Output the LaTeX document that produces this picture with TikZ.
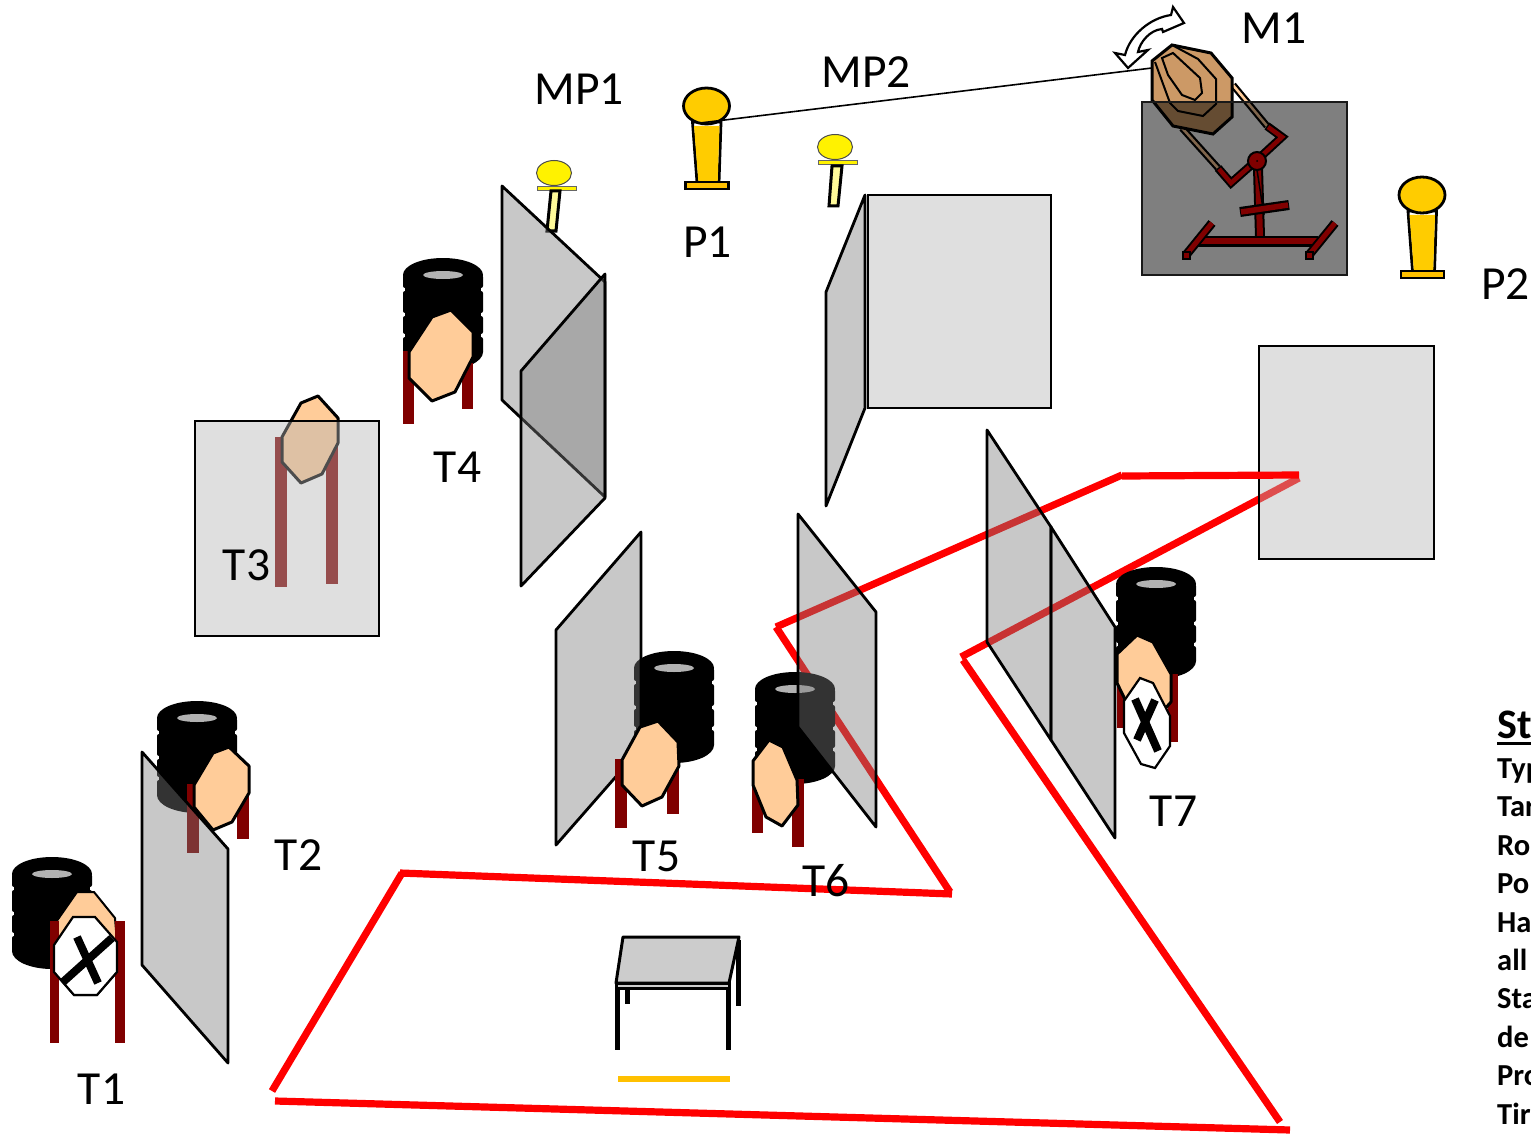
\documentclass[tikz,border=0pt]{standalone}
\usepackage{fontspec}
\setmainfont{Carlito}
\definecolor{post}{RGB}{128,0,0}
\definecolor{peach}{RGB}{255,204,153}
\definecolor{gold}{RGB}{255,204,0}
\definecolor{goldb}{RGB}{255,192,0}
\definecolor{tan1}{RGB}{204,153,102}
\definecolor{pg}{RGB}{123,123,123}
\definecolor{lg}{RGB}{180,180,180}
\definecolor{holeg}{RGB}{178,178,178}
\tikzset{
 x=1pt,y=-1pt,
 panel/.style={draw=black,line width=2.8,fill=pg,fill opacity=.415,draw opacity=1,line join=round},
 lightpanel/.style={draw=black,line width=2.6,fill=lg,fill opacity=.43,draw opacity=1},
 octa/.style={draw=black,line width=3,fill=peach,line join=round},
 whiteocta/.style={draw=black,line width=2.2,fill=white},
 postbar/.style={fill=post,draw=none},
 route/.style={draw=red,line width=7.2},
 xmark/.style={draw=black,line width=8},
 label/.style={font=\fontsize{47.5}{50}\selectfont,inner sep=0pt,text=black},
 sidetext/.style={font=\fontsize{30.5}{32}\selectfont\bfseries,inner sep=0pt,anchor=base west,text=black},
 yball/.style={draw=black!70,line width=1,fill=yellow},
 ybar/.style={draw=black!60,line width=1,fill=yellow},
 ystem/.style={draw=black,line width=3,fill=yellow!40},
 robotk/.style={draw=black,line cap=butt},
 robotr/.style={draw=post,line cap=butt},
}
\newcommand{\tirestack}[2]{%
 \begin{scope}[shift={(#1,#2)}]
  \fill (0,17) ellipse[x radius=40,y radius=17];
  \fill (0,94) ellipse[x radius=40,y radius=18];
  \fill (-38,17) rectangle (38,94);
  \fill[rounded corners=2] (-40,17) rectangle (40,30);
  \fill[rounded corners=2] (-40,33) rectangle (40,55);
  \fill[rounded corners=2] (-40,58) rectangle (40,76);
  \fill[rounded corners=2] (-40,79) rectangle (40,96);
  \fill[holeg] (0,17) ellipse[x radius=20,y radius=4];
 \end{scope}}
\newcommand{\trophy}[2]{%
 \begin{scope}[shift={(#1,#2)}]
  \draw[draw=black,line width=2.8,fill=white] (-14,16) -- (14.5,16) -- (12.5,76) -- (-9.5,76) -- cycle;
  \fill[gold] (-12.5,20) -- (13,20) -- (11.2,75) -- (-8.2,75) -- cycle;
  \draw[draw=black,line width=2.8,fill=goldb] (-21,76) rectangle (22,83);
  \draw[draw=black,line width=2.8,fill=gold] (0,0) ellipse[x radius=23,y radius=18];
 \end{scope}}
\begin{document}
\begin{tikzpicture}
\useasboundingbox (0,0) rectangle (1531,1134);
% red route
\draw[route] (272,1091) -- (402,873);
\draw[route] (400,873) -- (952,894);
\draw[route] (950,892) -- (776,627);
\draw[route] (776,627) -- (1122,475);
\draw[route] (1299,478) -- (961,657);
\draw[route] (963,660) -- (1280,1122);
\draw[route] (275,1101) -- (1290,1130);
% T1
\tirestack{52}{857}
\fill[peach,draw=black,line width=2] (77,892) -- (94,892) -- (115,918) -- (117,942) -- (117,972) -- (97,995) -- (74,995) -- (54,972) -- (54,925) -- cycle;
\fill[postbar] (50,921) rectangle (59,1043);
\fill[postbar] (115,921) rectangle (125,1043);
\draw[whiteocta] (73,917) -- (95,917) -- (117,942) -- (117,972) -- (97,995) -- (74,995) -- (54,972) -- (54,945) -- cycle;
\draw[xmark] (63,982) -- (112,938);
\draw[xmark] (77,937) -- (98,983);
% T2
\tirestack{197}{701}
\fill[postbar] (187,784) rectangle (199,853);
\fill[postbar] (237,793) rectangle (249,839);
\draw[octa] (229,747) -- (249,766) -- (249,793) -- (232,822) -- (213,830) -- (194,807) -- (194,785) -- (213,753) -- cycle;
\draw[panel] (142,752) -- (228,849) -- (228,1063) -- (142,965) -- cycle;
% T3
\fill[postbar] (275,437) -- (287,437) -- (287,587) -- (275,587) -- cycle;
\fill[postbar] (326,445) -- (338,445) -- (338,584) -- (326,584) -- cycle;
\draw[octa] (318,396) -- (338,418) -- (338,443) -- (322,474) -- (301,483) -- (282,462) -- (282,437) -- (301,403) -- cycle;
\draw[lightpanel] (195,421) rectangle (379,636);
% T4
\tirestack{443}{258}
\fill[postbar] (403,351) rectangle (414,424);
\fill[postbar] (462,363) rectangle (473,409);
\draw[octa] (451,310) -- (473,332) -- (473,357) -- (455,392) -- (432,401) -- (409,378) -- (409,352) -- (432,317) -- cycle;
% small poles
\draw[yball] (554,173) ellipse[x radius=17.5,y radius=12.5];
\draw[ybar] (537,187) rectangle (576,191);
\draw[ystem] (551,191) -- (560,191) -- (556,231) -- (547,231) -- cycle;
\draw[yball] (835,147) ellipse[x radius=17.5,y radius=12.5];
\draw[ybar] (818,161) rectangle (857,165);
\draw[ystem] (832,166) -- (842,166) -- (838,206) -- (829,206) -- cycle;
% trophies
\coordinate (p1a) at (700,123);
\coordinate (m1a) at (1152,68);
\trophy{706.5}{106}
\draw[line width=1.6] (p1a) -- (m1a);
\trophy{1422}{195}
% centre panels
\draw[panel] (502,186) -- (605,282) -- (605,497) -- (502,400) -- cycle;
\draw[panel] (521,371) -- (605,274) -- (605,498) -- (521,586) -- cycle;
% T5
\tirestack{674}{651}
\draw[panel] (556,630) -- (641,532) -- (641,748) -- (556,845) -- cycle;
\fill[postbar] (615,759) rectangle (627,828);
\fill[postbar] (667,766) rectangle (679,814);
\draw[octa] (658,721) -- (678,742) -- (679,766) -- (662,797) -- (642,806) -- (622,785) -- (622,760) -- (640,727) -- cycle;
% T6
\tirestack{795}{672}
\draw[panel] (798,514) -- (876,612) -- (876,827) -- (798,727) -- cycle;
\fill[postbar] (752,787) rectangle (763,833);
\fill[postbar] (792,779) rectangle (804,847);
\draw[octa] (769,740) -- (783,747) -- (797,780) -- (798,805) -- (782,826) -- (766,817) -- (753,785) -- (753,761) -- cycle;
% T7
\tirestack{1156}{567}
\fill[postbar] (1117,683) rectangle (1127,728);
\fill[postbar] (1168,674) rectangle (1178,742);
\draw[octa] (1137,635) -- (1153,642) -- (1171,674) -- (1171,702) -- (1155,720) -- (1135,720) -- (1117,683) -- (1117,654) -- cycle;
\draw[whiteocta] (1140,678) -- (1153,683) -- (1170,716) -- (1170,746) -- (1155,768) -- (1141,764) -- (1124,733) -- (1124,701) -- cycle;
\draw[xmark] (1135,699) -- (1158,751);
\draw[xmark] (1155,700) -- (1137,740);
\draw[panel] (987,430) -- (1051,527) -- (1051,740) -- (987,642) -- cycle;
\draw[panel] (1051,527) -- (1115,627) -- (1115,838) -- (1051,740) -- cycle;
% big panels
\draw[lightpanel] (868,195) rectangle (1051,408);
\draw[panel] (865,195) -- (865,408) -- (826,506) -- (826,292) -- cycle;
\draw[lightpanel] (1259,346) rectangle (1434,559);
\draw[route] (1122,476) -- (1299,475);
% M1 arms and head
\draw[line width=7] (1233,85) -- (1267,126);
\draw[draw=peach,line width=2.6] (1233,85) -- (1267,126);
\draw[line width=7] (1182,128) -- (1218,168);
\draw[draw=peach,line width=2.6] (1182,128) -- (1218,168);
\draw[draw=black,line width=3,fill=tan1] (1172,45) -- (1211,53) -- (1232,78) -- (1232,117) -- (1213,134) -- (1173,126) -- (1152,100) -- (1152,61) -- cycle;
\draw[line width=2] (1155,62) -- (1170,103) -- (1178,111) -- (1203,116) -- (1216,104) -- (1216,79) -- (1198,59) -- (1172,45);
\draw[line width=2] (1162,58) -- (1173,53) -- (1200,78) -- (1202,93) -- (1195,100) -- (1182,95) -- (1168,75) -- cycle;
\draw[draw=black!90,line width=2.6,fill=black,fill opacity=.5,draw opacity=1] (1142,102) rectangle (1347,275);
% M1 robot
\draw[robotk,line width=8.5,line join=miter] (1267,126) -- (1282,137) -- (1257,160) -- (1231,183) -- (1218,168);
\draw[robotr,line width=4.5,line join=miter] (1268,127) -- (1282,137) -- (1257,160) -- (1231,183) -- (1219,169);
\draw[robotk,line width=10] (1258,168) -- (1260,237);
\draw[robotr,line width=6] (1258,168) -- (1260,237);
\draw[line width=1.5] (1257,170) -- (1264,215);
\draw[robotk,line width=10] (1240,212) -- (1289,205);
\draw[robotr,line width=5.5] (1241,212) -- (1288,205);
\draw[robotk,line width=11] (1198,241) -- (1318,241);
\draw[robotr,line width=6.5] (1198,241) -- (1318,241);
\draw[robotk,line width=9] (1186,255) -- (1212,223);
\draw[robotr,line width=5] (1186,255) -- (1212,223);
\draw[robotk,line width=9] (1309,255) -- (1335,223);
\draw[robotr,line width=5] (1309,255) -- (1335,223);
\draw[draw=black,line width=2,fill=post] (1183,252) rectangle (1190,259);
\draw[draw=black,line width=2,fill=post] (1306,252) rectangle (1313,259);
\draw[draw=black,line width=2,fill=post] (1257,161) circle[radius=9];
\fill (1257,161) circle[radius=1];
% rotation arrow
\draw[line width=2.2,fill=white,line join=miter] (1115,53) -- (1125,55) .. controls (1130,35) and (1150,18) .. (1171,15) -- (1173,7) -- (1184,23) -- (1163,32) -- (1162,29) .. controls (1150,30) and (1140,42) .. (1138,52) -- (1148,50) -- (1128,68) -- cycle;
% table
\draw[line width=5] (617,988) -- (617,1050);
\draw[line width=5] (728,988) -- (728,1050);
\draw[line width=5] (627,988) -- (627,1004);
\draw[line width=5] (738,940) -- (738,1006);
\draw[line width=3,fill=black!20] (616,983) rectangle (729,988);
\draw[line width=3,fill=black!20,line join=round] (623,937) -- (739,937) -- (729,983) -- (616,983) -- cycle;
\draw[draw=goldb,line width=5.5] (618,1079) -- (730,1079);
% labels
\node[label] (lmp1) at (579,89.5) {MP1};
\node[label] (lmp2) at (866,72.5) {MP2};
\node[label] (lm1) at (1274,28) {M1};
\node[label] (lp1) at (707.5,242.5) {P1};
\node[label] (lp2) at (1505.5,284.5) {P2};
\node[label] (lt1) at (101.5,1089.5) {T1};
\node[label] (lt2) at (298.5,855.5) {T2};
\node[label] (lt3) at (246.5,565.5) {T3};
\node[label] (lt4) at (457.5,467.5) {T4};
\node[label] (lt5) at (656.5,856.5) {T5};
\node[label] (lt6) at (826,880.5) {T6};
\node[label] (lt7) at (1173.5,811.5) {T7};
% side text, cut by the page edge
\begin{scope}
\clip (0,0) rectangle (1531,1134);
\node[sidetext,font=\fontsize{42}{44}\selectfont\bfseries] (s0) at (1497,738) {St};
\draw[line width=3] (1497,743) -- (1531,743);
\node[sidetext] (s1) at (1497,778) {Typ};
\node[sidetext] (s2) at (1497,816) {Tar};
\node[sidetext] (s3) at (1497,855) {Ro};
\node[sidetext] (s4) at (1497,893) {Po};
\node[sidetext] (s5) at (1497,932) {Ha};
\node[sidetext] (s6) at (1497,970) {all};
\node[sidetext] (s7) at (1497,1008) {Sta};
\node[sidetext] (s8) at (1497,1047) {de};
\node[sidetext] (s9) at (1497,1085) {Pro};
\node[sidetext] (s10) at (1497,1124) {Tir};
\end{scope}
\end{tikzpicture}
\end{document}
